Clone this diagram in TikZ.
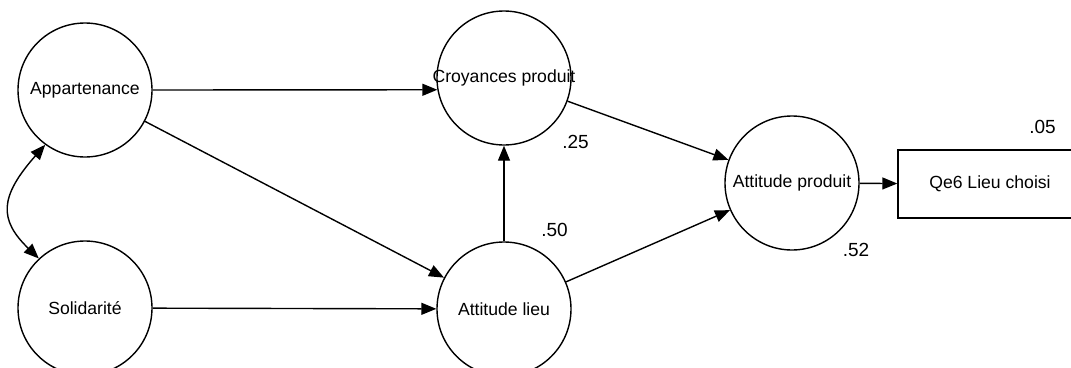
\documentclass[tikz,border=0pt]{standalone}
\usepackage{fontspec}
\setmainfont{Liberation Sans}
\usetikzlibrary{arrows.meta}
\begin{document}
\begin{tikzpicture}[x=1pt,y=-1pt,
  latent/.style={circle,draw,line width=1.4pt,minimum size=134pt,inner sep=0pt,
    font=\fontsize{17.6}{20}\selectfont},
  observed/.style={rectangle,draw,line width=1.4pt,minimum width=184pt,
    minimum height=68pt,inner sep=0pt,font=\fontsize{17.6}{20}\selectfont},
  tip/.tip={Triangle[length=15pt,width=12pt]},
  link/.style={line width=1.4pt,-tip},
  est/.style={inner sep=0pt,font=\fontsize{19}{22}\selectfont}]
\useasboundingbox (0,0) rectangle (1071,367);
\clip (0,0) rectangle (1071,367);

% latent variables and the observed indicator
\node[latent] (app) at (85,90) {\makebox[0pt]{Appartenance}};
\node[latent] (sol) at (85,308) {\makebox[0pt]{Solidarité}};
\node[latent] (cro) at (504,78) {\makebox[0pt]{Croyances produit}};
\node[latent] (al) at (504,309) {\makebox[0pt]{Attitude lieu}};
\node[latent] (ap) at (792,183) {\makebox[0pt]{Attitude produit}};
\node[observed] (qe) at (990,184) {Qe6 Lieu choisi};

% structural paths
\draw[link] (app.east) -- (cro.190);
\draw[link] (app) -- (al);
\draw[link] (sol) -- (al);
\draw[link] (al) -- (cro);
\draw[link] (cro) -- (ap);
\draw[link] (al) -- (ap);
\draw[link] (ap) -- (qe);

% covariance between the exogenous factors
\draw[line width=1.4pt,tip-tip] (app.234) .. controls (-1,197) and (-1,220) .. (sol.133);

% squared multiple correlations
\node[est] (r1) at (575.5,141.5) {.25};
\node[est] (r2) at (554.5,229.5) {.50};
\node[est] (r3) at (856,249.5) {.52};
\node[est] (r4) at (1042.5,127) {.05};
\end{tikzpicture}
\end{document}
